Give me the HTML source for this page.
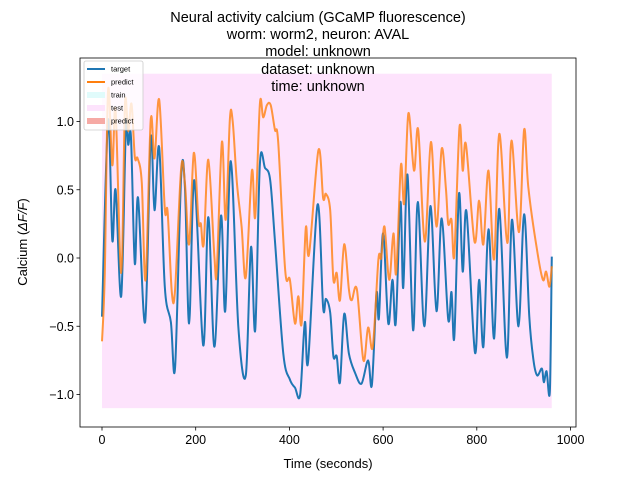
<!DOCTYPE html>
<html><head><meta charset="utf-8"><style>
body{margin:0;background:#fff}
svg{font-family:"Liberation Sans","DejaVu Sans",sans-serif}
</style></head><body>
<svg id="c" width="640" height="480" viewBox="0 0 640 480">
<rect width="640" height="480" fill="#fff"/>
<g id="plot"></g>
<g id="title" font-size="14.5" text-anchor="middle" fill="#000">
<text x="318" y="22">Neural activity calcium (GCaMP fluorescence)</text>
<text x="318" y="39">worm: worm2, neuron: AVAL</text>
<text x="318" y="56">model: unknown</text>
<text x="318" y="74">dataset: unknown</text>
<text x="318" y="91">time: unknown</text>
</g>
</svg>
<script>
const targetT=[0,13,22,29,41,51,56,62,70,77,92,104,112,122,134,147,156,169,177,186,197,216,227,240,254,263,275,291,307,318,327,337,348,359,369,387,401,412,423,433,440,460,472,478,487,494,501,508,517,527,540,554,568,576,586,591,600,611,620,627,637,643,652,664,674,688,701,714,725,739,746,752,762,770,778,796,805,814,825,837,848,864,875,889,901,912,921,929,939,943,949,956,960];
const targetV=[-0.43,1.01,0.13,0.50,-0.28,0.96,0.83,0.88,-0.04,0.44,-0.47,0.88,0.35,0.81,-0.21,-0.47,-0.80,0.60,0.52,-0.48,0.57,-0.64,0.30,-0.65,0.31,-0.39,0.71,-0.50,-0.86,0.08,-0.53,0.69,0.66,0.57,0.13,-0.70,-0.89,-0.95,-1.00,-0.47,-0.76,0.39,-0.36,-0.30,-0.40,-0.72,-0.72,-0.91,-0.41,-0.70,-0.84,-0.92,-0.75,-0.93,-0.26,-0.44,0.18,-0.48,-0.16,-0.48,0.41,-0.22,0.61,-0.53,0.41,-0.50,0.38,-0.39,0.29,-0.45,-0.25,-0.58,0.47,-0.10,0.34,-0.69,-0.16,-0.65,0.21,-0.59,0.36,-0.73,0.28,-0.50,0.32,-0.43,-0.75,-0.86,-0.81,-0.91,-0.83,-0.97,0.01];
const predT=[0,6,13,22,29,41,49,56,63,70,76,85,93,104,112,122,134,140,149,156,169,177,186,196,206,211,217,227,240,245,256,264,273,279,288,298,307,320,327,337,344,352,360,369,376,391,401,412,419,426,435,442,462,472,478,487,494,501,508,517,527,533,544,558,568,578,590,596,603,613,622,628,638,645,654,666,675,689,702,714,725,734,739,746,752,763,770,777,795,805,814,825,837,848,865,874,890,901,910,928,941,948,955,960];
const predV=[-0.61,-0.11,1.23,0.68,1.08,-0.11,1.13,0.93,1.13,0.74,0.73,0.55,-0.16,1.01,0.73,1.16,0.36,0.34,-0.25,-0.23,0.66,0.55,0.10,0.77,0.27,0.25,0.10,0.72,0.01,-0.09,0.85,0.28,1.02,1.00,0.55,0.23,-0.14,0.64,0.30,1.13,1.03,1.12,1.12,0.94,0.85,-0.09,-0.16,-0.48,-0.28,-0.48,0.22,0.03,0.79,0.44,0.47,0.35,-0.16,-0.11,-0.31,0.10,-0.23,-0.31,-0.23,-0.75,-0.51,-0.65,-0.01,0.00,0.23,-0.16,0.18,-0.11,0.68,0.40,1.06,0.64,0.94,0.12,0.85,0.23,0.80,0.51,0.25,0.28,0.02,0.96,0.64,0.83,0.12,0.42,0.10,0.64,-0.01,0.91,0.11,0.86,0.19,0.94,0.52,0.07,-0.16,-0.10,-0.21,-0.06];
const xTicks=[0,200,400,600,800,1000];
const yTicks=[-1.0,-0.5,0.0,0.5,1.0];
const yTickLabels=["\u22121.0","\u22120.5","0.0","0.5","1.0"];
const testRange=[0,960,-1.1,1.35];

const L=80,R=576,T=58,B=427;
const X=t=>102+(t)*0.4685;
const Y=v=>258-v*136.5;
const NS="http://www.w3.org/2000/svg";
const plot=document.getElementById('plot');
function mk(tag,attrs,parent){const e=document.createElementNS(NS,tag);for(const k in attrs)e.setAttribute(k,attrs[k]);(parent||plot).appendChild(e);return e;}

const bg=mk('rect',{x:X(testRange[0]),y:Y(testRange[3]),width:X(testRange[1])-X(testRange[0]),height:Y(testRange[2])-Y(testRange[3]),fill:'#fde3fc'});



function smooth(ts,vs){
  const p=ts.map((t,i)=>[X(t),Y(vs[i])]);
  let d='M'+p[0][0].toFixed(1)+' '+p[0][1].toFixed(1);
  for(let i=0;i<p.length-1;i++){
    const p0=p[Math.max(0,i-1)],p1=p[i],p2=p[i+1],p3=p[Math.min(p.length-1,i+2)];
    const c1=[p1[0]+(p2[0]-p0[0])/6,p1[1]+(p2[1]-p0[1])/6];
    const c2=[p2[0]-(p3[0]-p1[0])/6,p2[1]-(p3[1]-p1[1])/6];
    d+=' C'+c1[0].toFixed(1)+' '+c1[1].toFixed(1)+' '+c2[0].toFixed(1)+' '+c2[1].toFixed(1)+' '+p2[0].toFixed(1)+' '+p2[1].toFixed(1);
  }
  return d;
}
const tl=mk('path',{d:smooth(targetT,targetV),fill:'none',stroke:'#1f77b4','stroke-width':2,'stroke-linejoin':'round'});


const pl=mk('path',{d:smooth(predT,predV),fill:'none',stroke:'#ff7f0e','stroke-opacity':0.8,'stroke-width':2,'stroke-linejoin':'round'});



const frame=mk('rect',{x:L,y:T,width:R-L,height:B-T,fill:'none',stroke:'#000','stroke-width':0.8});



xTicks.forEach(t=>{
  const g=mk('g',{});
  
  
  mk('line',{x1:X(t),x2:X(t),y1:B,y2:B+3.5,stroke:'#000','stroke-width':0.8},g);
  const tx=mk('text',{x:X(t),y:B+17,'font-size':12.5,'text-anchor':'middle'},g);tx.textContent=t;
});
yTicks.forEach((v,i)=>{
  const g=mk('g',{});
  
  
  mk('line',{x1:L-3.5,x2:L,y1:Y(v),y2:Y(v),stroke:'#000','stroke-width':0.8},g);
  const tx=mk('text',{x:L-6,y:Y(v)+4.5,'font-size':12.5,'text-anchor':'end'},g);tx.textContent=yTickLabels[i];
});
const xl=mk('text',{x:328,y:468,'font-size':13,'text-anchor':'middle'});xl.textContent='Time (seconds)';


const yl=mk('text',{x:0,y:0,'font-size':13,'text-anchor':'middle',transform:'translate(27,242) rotate(-90)'});
yl.innerHTML='Calcium (<tspan font-style="italic">\u0394F/F</tspan>)';



// legend
const lg=mk('g',{});


mk('rect',{x:84,y:61,width:59,height:69,rx:2,fill:'#fff','fill-opacity':0.8,stroke:'#ccc','stroke-width':0.8},lg);
const items=[['target','line','#1f77b4'],['predict','line','#ff7f0e'],['train','patch','#e0fbfb'],['test','patch','#fde3fc'],['predict','patch','#f6aaa5']];
items.forEach((it,i)=>{
  const y=69+i*13;
  const g=mk('g',{},lg);
  
  
  if(it[1]==='line')mk('line',{x1:87,x2:105,y1:y,y2:y,stroke:it[2],'stroke-width':2},g);
  else mk('rect',{x:87,y:y-3,width:18,height:6,fill:it[2]},g);
  const t=mk('text',{x:111,y:y+2.5,'font-size':7.5},g);t.textContent=it[0];
});
</script>
</body></html>
